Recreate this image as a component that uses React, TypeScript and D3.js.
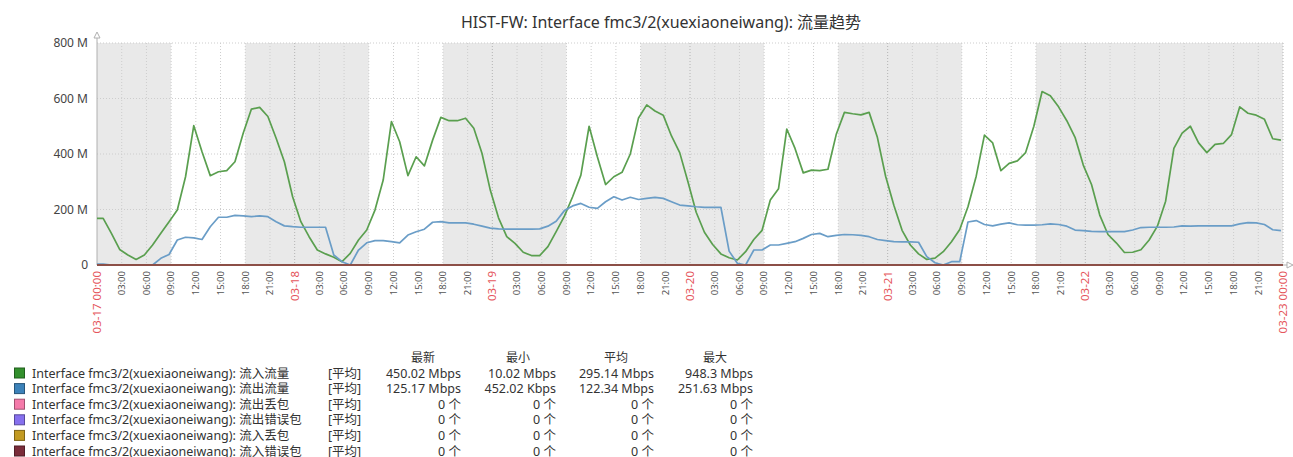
import React, { useEffect, useRef } from 'react'
import * as d3 from 'd3'

const W = 1293
const H = 457
const FONT = '"Noto Sans", "Noto Sans CJK SC", sans-serif'

const title = 'HIST-FW: Interface fmc3/2(xuexiaoneiwang): 流量趋势'
const seriesPrefix = 'Interface fmc3/2(xuexiaoneiwang): '

// range shown in the graph
const startDay = '2018-03-17'
const endDay = '2018-03-23'
// days with a white 09:00-18:00 working band
const workDays = ['2018-03-17', '2018-03-18', '2018-03-19', '2018-03-20', '2018-03-21']
const workHours = [9, 18]

// sample times, hours from 03-17 00:00 (first point at 00:00, then hourly at :45)
const sampleHours = [0, ...d3.range(144).map(i => i + 0.75)]

// 流入流量, Mbps
const inTraffic = [
  168, 168, 114, 56, 36, 20, 36, 72, 114, 156, 198, 318, 502, 408, 322, 336, 340, 372, 475, 562, 568, 535, 457, 372, 246,
  156, 102, 54, 40, 28, 12, 42, 90, 126, 198, 306, 517,
  444, 322, 390, 357, 450, 532, 520, 520, 529, 493, 402, 270, 170, 102, 78, 46, 34, 34, 66, 120, 176, 246, 324, 500, 390,
  290, 318, 334, 400, 530, 577, 555, 540, 465, 405, 300,
  190, 118, 74, 40, 26, 18, 48, 92, 125, 234, 275, 490, 420, 332, 342, 340, 345, 470, 550, 545, 541, 550, 460, 320, 215,
  125, 72, 40, 20, 25, 48, 84, 128, 210, 320, 468,
  440, 340, 366, 375, 405, 500, 625, 610, 570, 520, 460, 360, 290, 180, 110, 80, 45, 46, 55, 90, 140, 230, 420, 475, 500,
  440, 405, 435, 438, 470, 570, 547, 540, 525, 455, 450,
]

// 流出流量, Mbps
const outTraffic = [
  3, 3, 0, 0, 0, 0, 0, 0, 24, 38, 90, 100, 98, 92, 138, 172, 172, 179, 177, 174, 177, 174, 156, 141, 138,
  136, 136, 136, 136, 36, 12, 0, 54, 80, 88, 88, 84,
  80, 108, 120, 129, 154, 156, 152, 152, 152, 147, 140, 133, 130, 129, 129, 129, 129, 130, 140, 158, 196, 213, 222, 208, 204,
  228, 246, 234, 244, 236, 240, 244, 240, 228, 216, 213,
  210, 208, 208, 208, 50, 6, 0, 54, 54, 72, 72, 78, 84, 96, 110, 114, 102, 107, 110, 109, 107, 102, 92, 88, 84,
  83, 83, 82, 30, 8, 0, 12, 12, 155, 160, 146,
  141, 147, 152, 145, 144, 144, 145, 148, 146, 140, 126, 124, 121, 120, 120, 120, 120, 126, 135, 136, 136, 136, 137, 141, 140,
  141, 141, 141, 141, 141, 148, 153, 152, 146, 127, 124,
]

// packet counters, flat at zero over the whole range
const counterHours = [0, 144]
const outDrops = [0, 0]
const outErrors = [0, 0]
const inDrops = [0, 0]
const inErrors = [0, 0]

const seriesNames = ['流入流量', '流出流量', '流出丢包', '流出错误包', '流入丢包', '流入错误包']
const swatchColors = ['#33902d', '#3c82b9', '#f57aaa', '#8670ee', '#c29a22', '#7a2c3a']
const lineColors = ['#5a9f4f', '#6a9dc7', '#f57aaa', '#8670ee', '#c29a22', '#7e3a44']

const statHeaders = ['最新', '最小', '平均', '最大']
const lastVals = ['450.02 Mbps', '125.17 Mbps', '0 个', '0 个', '0 个', '0 个']
const minVals = ['10.02 Mbps', '452.02 Kbps', '0 个', '0 个', '0 个', '0 个']
const avgVals = ['295.14 Mbps', '122.34 Mbps', '0 个', '0 个', '0 个', '0 个']
const maxVals = ['948.3 Mbps', '251.63 Mbps', '0 个', '0 个', '0 个', '0 个']

const yTicks = [0, 200, 400, 600, 800]

function draw(root: SVGSVGElement) {
  const svg = d3.select(root)
  svg.selectAll('*').remove()

  const parse = d3.timeParse('%Y-%m-%d')
  const t0 = parse(startDay) as Date
  const t1 = parse(endDay) as Date

  const x = d3.scaleTime().domain([t0, t1]).range([97, 1283])
  const y = d3.scaleLinear().domain([0, 800]).range([265, 43])
  const at = (h: number) => new Date(t0.getTime() + h * 3600 * 1000)

  svg.append('text')
    .attr('x', 661).attr('y', 28)
    .attr('text-anchor', 'middle')
    .attr('font-size', 16)
    .attr('fill', '#333')
    .text(title)

  // background: non-working time grey
  svg.append('rect')
    .attr('x', x(t0)).attr('y', y(800))
    .attr('width', x(t1) - x(t0)).attr('height', y(0) - y(800))
    .attr('fill', '#e9e9e9')

  svg.selectAll('.work')
    .data(workDays.map(d => parse(d) as Date))
    .enter().append('rect')
    .attr('class', 'work')
    .attr('x', d => x(d3.timeHour.offset(d, workHours[0])))
    .attr('y', y(800))
    .attr('width', d => x(d3.timeHour.offset(d, workHours[1])) - x(d3.timeHour.offset(d, workHours[0])))
    .attr('height', y(0) - y(800))
    .attr('fill', '#fff')

  const ticks = d3.timeHour.every(3)!.range(t0, d3.timeHour.offset(t1, 1))

  // grid
  svg.selectAll('.vgrid')
    .data(ticks.filter(t => +t !== +t0))
    .enter().append('line')
    .attr('x1', d => x(d)).attr('x2', d => x(d))
    .attr('y1', y(800)).attr('y2', y(0))
    .attr('stroke', d => d.getHours() === 0 ? '#b4b4b4' : '#cdcdcd')
    .attr('stroke-dasharray', '1,2')

  svg.selectAll('.hgrid')
    .data(yTicks.filter(v => v > 0))
    .enter().append('line')
    .attr('x1', x(t0)).attr('x2', x(t1))
    .attr('y1', d => y(d)).attr('y2', d => y(d))
    .attr('stroke', '#cdcdcd')
    .attr('stroke-dasharray', '1,2')

  // axes
  svg.append('line')
    .attr('x1', x(t0)).attr('x2', x(t0))
    .attr('y1', 37).attr('y2', y(0))
    .attr('stroke', '#b0b0b0')
  svg.append('path')
    .attr('d', `M${x(t0) - 3},38 L${x(t0) + 3},38 L${x(t0)},32 Z`)
    .attr('fill', '#fff').attr('stroke', '#b0b0b0')
  svg.append('line')
    .attr('x1', x(t0)).attr('x2', 1289)
    .attr('y1', y(0)).attr('y2', y(0))
    .attr('stroke', '#b0b0b0')
  svg.append('path')
    .attr('d', `M1287,${y(0) - 3} L1287,${y(0) + 3} L1293,${y(0)} Z`)
    .attr('fill', '#fff').attr('stroke', '#b0b0b0')

  svg.selectAll('.ylab')
    .data(yTicks)
    .enter().append('text')
    .attr('x', 88)
    .attr('y', d => y(d) + 4)
    .attr('text-anchor', 'end')
    .attr('font-size', 12)
    .attr('fill', '#444')
    .text(d => d === 0 ? '0' : d + ' M')

  const fmtHour = d3.timeFormat('%H:%M')
  const fmtDay = d3.timeFormat('%m-%d')
  const fmtFull = d3.timeFormat('%m-%d %H:%M')

  svg.selectAll('.xlab')
    .data(ticks)
    .enter().append('text')
    .attr('transform', d => `translate(${x(d)},271) rotate(-90)`)
    .attr('text-anchor', 'end')
    .attr('dy', '0.35em')
    .attr('font-size', d => d.getHours() === 0 ? 11.5 : 9.5)
    .attr('fill', d => d.getHours() === 0 ? '#e5565c' : '#555')
    .text(d => (+d === +t0 || +d === +t1) ? fmtFull(d) : d.getHours() === 0 ? fmtDay(d) : fmtHour(d))

  // series, drawn in legend order
  const line = d3.line<[number, number]>()
    .x(d => x(at(d[0])))
    .y(d => y(d[1]))

  const series: [number[], number[]][] = [
    [sampleHours, inTraffic],
    [sampleHours, outTraffic],
    [counterHours, outDrops],
    [counterHours, outErrors],
    [counterHours, inDrops],
    [counterHours, inErrors],
  ]

  series.forEach(([hours, vals], i) => {
    svg.append('path')
      .attr('d', line(hours.map((h, k) => [h, vals[k]] as [number, number])))
      .attr('fill', 'none')
      .attr('stroke', lineColors[i])
      .attr('stroke-width', 1.7)
      .attr('stroke-linejoin', 'round')
  })

  // legend
  const colRight = [461, 556, 654, 753]
  const rowY = (i: number) => 373 + i * 15.6
  const leg = svg.append('g').attr('font-size', 12.5).attr('fill', '#333')

  statHeaders.forEach((h, c) => {
    leg.append('text')
      .attr('x', colRight[c] - 38).attr('y', 362)
      .attr('text-anchor', 'middle')
      .attr('font-size', 12)
      .text(h)
  })

  const cols = [lastVals, minVals, avgVals, maxVals]
  seriesNames.forEach((name, i) => {
    const cy = rowY(i)
    leg.append('rect')
      .attr('x', 14.5).attr('y', cy - 5)
      .attr('width', 10).attr('height', 10)
      .attr('fill', swatchColors[i])
      .attr('stroke', d3.color(swatchColors[i])!.darker(1.2).toString())
    leg.append('text').attr('x', 32).attr('y', cy + 4.5).text(seriesPrefix + name)
    leg.append('text').attr('x', 328).attr('y', cy + 4.5).text('[平均]')
    cols.forEach((col, c) => {
      leg.append('text')
        .attr('x', colRight[c]).attr('y', cy + 4.5)
        .attr('text-anchor', 'end')
        .text(col[i])
    })
  })
}

export default function App() {
  const ref = useRef<SVGSVGElement>(null)

  useEffect(() => {
    if (ref.current) draw(ref.current)
  }, [])

  return (
    <svg
      ref={ref}
      width={W}
      height={H}
      style={{ position: 'absolute', left: 0, top: 0, background: '#fff', fontFamily: FONT }}
    />
  )
}
